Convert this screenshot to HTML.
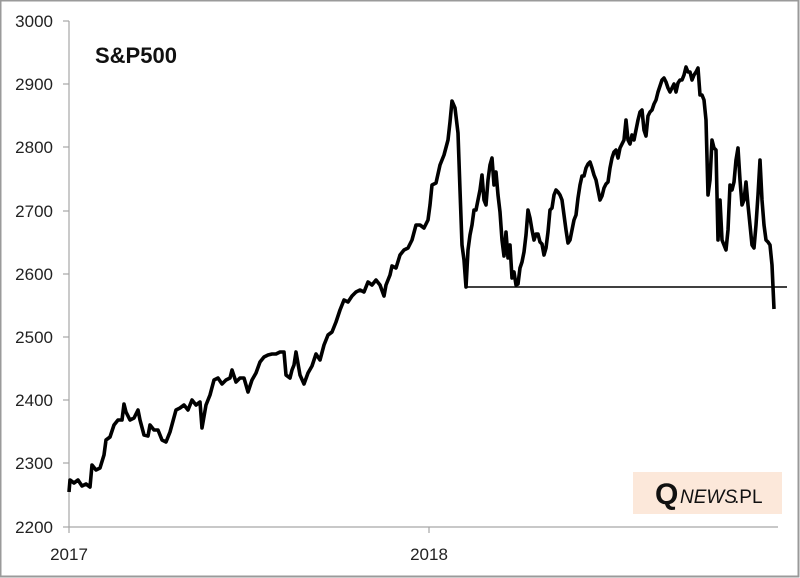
<!DOCTYPE html>
<html><head><meta charset="utf-8"><style>
html,body{margin:0;padding:0;background:#fff;}
svg{display:block;}
text{font-family:"Liberation Sans",sans-serif;}
</style></head><body>
<svg width="800" height="578" viewBox="0 0 800 578" xmlns="http://www.w3.org/2000/svg">
<rect x="0.5" y="0.5" width="798" height="576" fill="#fff" stroke="#9a9a9a" stroke-width="2"/>
<g stroke="#a6a6a6" stroke-width="1.2" fill="none">
<line x1="69" y1="21" x2="69" y2="527"/>
<line x1="69" y1="527" x2="778" y2="527"/>
<line x1="63" y1="21" x2="69" y2="21"/><line x1="63" y1="84" x2="69" y2="84"/>
<line x1="63" y1="147" x2="69" y2="147"/><line x1="63" y1="211" x2="69" y2="211"/>
<line x1="63" y1="274" x2="69" y2="274"/><line x1="63" y1="337" x2="69" y2="337"/>
<line x1="63" y1="400" x2="69" y2="400"/><line x1="63" y1="463" x2="69" y2="463"/>
<line x1="63" y1="527" x2="69" y2="527"/>
<line x1="69" y1="527" x2="69" y2="533"/><line x1="429" y1="527" x2="429" y2="533"/>
</g>
<g font-size="17" fill="#222" text-anchor="end">
<text x="53" y="27">3000</text><text x="53" y="90">2900</text><text x="53" y="153">2800</text>
<text x="53" y="217">2700</text><text x="53" y="280">2600</text><text x="53" y="343">2500</text>
<text x="53" y="406">2400</text><text x="53" y="469">2300</text><text x="53" y="533">2200</text>
</g>
<g font-size="17" fill="#222" text-anchor="middle">
<text x="69" y="560">2017</text><text x="429" y="560">2018</text>
</g>
<text x="95" y="63" font-size="22" font-weight="bold" fill="#111">S&amp;P500</text>
<rect x="633" y="472" width="149" height="42" fill="#fce8da"/>
<text x="655" y="504" font-family="Liberation Serif,serif" font-size="30" font-weight="bold" fill="#111">Q</text>
<text x="680" y="503" font-size="19" font-style="italic" fill="#111">NEWS</text><text x="734" y="503" font-size="19" fill="#111">.PL</text>
<line x1="465" y1="287" x2="787" y2="287" stroke="#000" stroke-width="1.5"/>
<polyline fill="none" stroke="#000" stroke-width="3.6" stroke-linejoin="round" points="69,492 70,480 74,483 78,480 82,486 86,484 90,487 92,465 96,470 100,468 104,455 106,440 110,437 114,425 118,420 122,420 124,404 126,412 130,420 134,418 138,410 140,420 144,435 148,436 150,425 154,430 158,430 162,440 166,442 170,432 176,410 180,408 184,405 188,410 192,400 196,405 200,402 202,428 206,405 210,395 214,380 218,378 222,384 226,380 230,378 232,370 236,382 240,378 244,378 248,392 252,380 256,373 260,362 264,357 268,355 272,354 276,354 280,352 284,352 286,375 290,378 292,370 294,365 296,352 300,375 304,384 308,373 312,366 316,354 320,360 324,345 328,335 332,332 336,322 340,310 344,300 348,302 352,296 356,292 360,290 364,292 368,282 372,285 376,280 380,285 384,296 386,285 390,275 392,266 396,268 400,255 404,250 408,248 412,240 416,225 420,225 424,228 428,220 430,205 432,185 436,183 440,165 444,155 448,140 450,122 452,101 455,108 458,133 460,190 462,245 464,260 466,287 468,250 470,235 472,225 474,210 476,210 478,200 480,190 482,175 484,200 486,205 488,180 490,165 492,158 494,185 496,172 498,195 500,212 502,240 504,256 506,232 508,258 510,245 512,278 514,272 516,285 518,284 520,268 522,262 524,252 526,235 528,210 530,218 532,230 534,240 536,234 538,234 540,242 542,244 544,255 546,248 548,232 550,210 552,208 554,195 556,190 558,192 560,195 562,200 564,215 566,230 568,243 570,240 572,230 574,220 576,215 578,198 580,185 582,176 584,176 586,168 588,164 590,162 592,168 594,175 596,180 598,190 600,200 602,196 604,188 606,184 608,182 610,168 612,158 614,152 616,150 618,158 620,148 622,144 624,140 626,120 628,140 630,144 632,135 634,140 636,130 638,120 640,112 642,110 644,130 646,136 648,116 650,112 652,110 654,104 656,100 658,92 660,86 662,80 664,78 666,82 668,88 670,92 672,88 674,84 676,92 678,83 680,80 682,80 684,75 686,67 688,72 690,72 692,80 694,75 696,72 698,68 700,95 702,95 704,100 706,120 708,195 710,180 712,140 714,148 716,150 718,240 720,200 722,240 724,245 726,250 728,230 730,185 732,190 734,182 736,160 738,148 740,180 742,205 744,200 746,182 748,205 750,225 752,245 754,248 756,225 758,195 760,160 762,200 764,225 766,240 768,242 770,245 772,265 774,309"/>
</svg>
</body></html>
